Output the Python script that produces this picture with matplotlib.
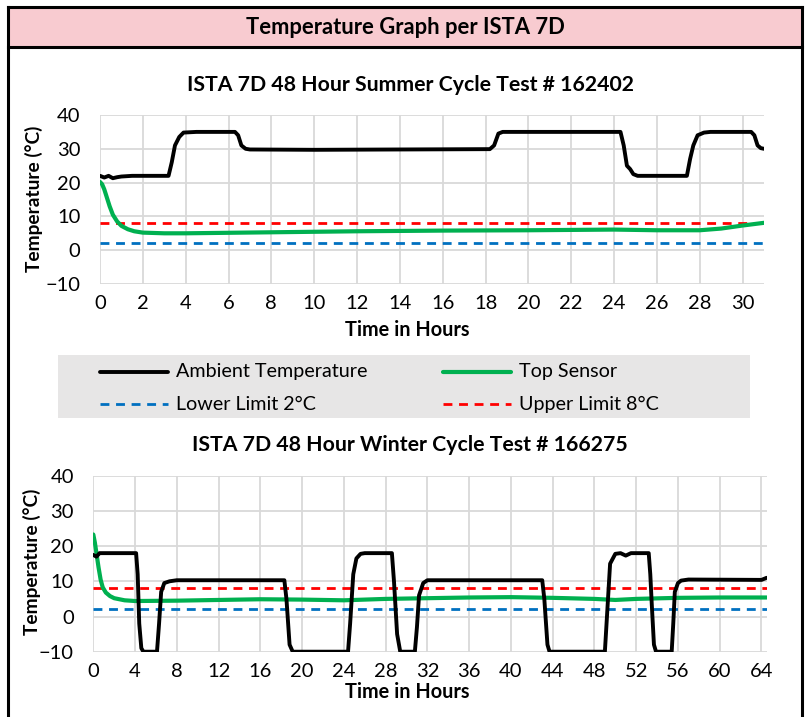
import matplotlib
matplotlib.use("Agg")
from matplotlib import pyplot as plt
from matplotlib.patches import Rectangle
from matplotlib.lines import Line2D

plt.rcParams['font.family'] = ['Lato', 'DejaVu Sans']

# summer cycle (test 162402)
summer_hours = [0, 0.2, 0.4, 0.6, 0.8, 1.0, 1.5, 2.0, 3.2, 3.35, 3.5, 3.7, 3.9, 4.5,
                6.3, 6.45, 6.6, 6.8, 7.0, 10, 14, 18.2, 18.4, 18.6, 18.8, 20, 24.3,
                24.45, 24.6, 24.75, 24.9, 25.1, 26, 27.4, 27.55, 27.7, 27.9, 28.2,
                28.5, 30.4, 30.55, 30.7, 30.85, 31.0]
summer_ambient = [22, 21.5, 22, 21.3, 21.6, 21.8, 22, 22, 22, 26, 31, 33.5, 34.8, 35,
                  35, 34, 31, 30, 29.8, 29.7, 29.8, 29.9, 31, 34.5, 35, 35, 35,
                  31, 25, 24, 22.5, 22, 22, 22, 27, 31, 34, 34.8,
                  35, 35, 34, 31, 30.2, 30]
summer_sensor_hours = [0, 0.1, 0.2, 0.3, 0.45, 0.6, 0.8, 1.0, 1.3, 1.6, 2.0, 3, 4, 8,
                       12, 16, 20, 24, 26, 28, 29, 30, 31]
summer_sensor = [20.2, 19.5, 18, 16, 13, 10.5, 8.5, 7.2, 6.2, 5.6, 5.2, 5.0, 5.0, 5.3,
                 5.6, 5.8, 5.9, 6.1, 5.9, 5.9, 6.4, 7.3, 8.1]

# winter cycle (test 166275)
winter_hours = [0, 0.3, 0.6, 1.0, 4.1, 4.25, 4.4, 4.6, 4.8, 6.1, 6.3, 6.5, 6.8, 7.3, 8,
                18.3, 18.5, 18.8, 19.1, 24.4, 24.6, 24.9, 25.2, 25.6, 26, 28.6, 28.8,
                29.1, 29.4, 30.8, 31.0, 31.2, 31.6, 32, 43.0, 43.2, 43.5, 43.7, 49.0,
                49.2, 49.5, 50.0, 50.5, 51, 51.5, 53.2, 53.35, 53.5, 53.7, 53.9, 55.4,
                55.55, 55.7, 56, 56.3, 57, 64, 64.5]
winter_ambient = [17.5, 17, 18, 18, 18, 12, -2, -9, -10, -10, -2, 7, 9.5, 10, 10.3,
                  10.3, 5, -8, -10, -10, -2, 12, 16.5, 17.8, 18, 18, 10,
                  -5, -10, -10, -3, 6, 9.5, 10.3, 10.3, 5, -8, -10, -10,
                  0, 15, 17.8, 18, 17.3, 18, 18, 12, 3, -8, -10, -10,
                  -2, 7, 9.5, 10.2, 10.5, 10.4, 11]
winter_sensor_hours = [0, 0.15, 0.3, 0.5, 0.7, 0.9, 1.2, 1.6, 2.0, 3.0, 4.0, 8, 12, 16,
                       20, 24, 28, 32, 36, 40, 44, 48, 50, 52, 56, 60, 64.5]
winter_sensor = [23.3, 21, 18, 14, 10.5, 8.3, 6.8, 5.8, 5.2, 4.6, 4.4, 4.5, 4.7, 4.9,
                 4.8, 4.6, 5.0, 5.2, 5.4, 5.5, 5.3, 5.0, 4.7, 5.0, 5.3, 5.4, 5.4]

lower_limit = 2
upper_limit = 8
y_ticks = [-10, 0, 10, 20, 30, 40]

W, H = 807, 717
BLACK, GREEN, BLUE, RED = '#000000', '#00b050', '#0070c0', '#ff0000'
GRID = '#d9d9d9'


def fx(px):
    return px / W


def fy(py):
    return 1 - py / H


fig = plt.figure(figsize=(W / 100, H / 100), dpi=100)

# frame and pink title band
fig.patches.append(Rectangle((fx(8), fy(47)), fx(802) - fx(8), fy(7) - fy(47),
                             transform=fig.transFigure, facecolor='#f8cbd0',
                             edgecolor='none', zorder=0))
for xs, ys in [([8, 8], [7, 717]), ([802, 802], [7, 717]), ([8, 802], [7, 7]),
               ([8, 802], [47, 47])]:
    fig.add_artist(Line2D([fx(x) for x in xs], [fy(y) for y in ys], color='black',
                          lw=2.2, transform=fig.transFigure))
fig.text(fx(405), fy(27), 'Temperature Graph per ISTA 7D', ha='center', va='center',
         fontsize=15.8, fontweight='bold')

# legend band
fig.patches.append(Rectangle((fx(58), fy(418)), fx(750) - fx(58), fy(355) - fy(418),
                             transform=fig.transFigure, facecolor='#e7e6e6',
                             edgecolor='none', zorder=0))


def draw_panel(rect, hours, ambient, s_hours, sensor, xmax, xstep, title, title_y,
               xlabel_y):
    ax = fig.add_axes(rect)
    ax.plot([0, xmax], [lower_limit, lower_limit], color=BLUE, lw=2.0,
            dashes=(3.2, 2.4))
    ax.plot([0, xmax], [upper_limit, upper_limit], color=RED, lw=2.0,
            dashes=(3.2, 2.4))
    ax.plot(s_hours, sensor, color=GREEN, lw=3.0, solid_joinstyle='round',
            solid_capstyle='round')
    ax.plot(hours, ambient, color=BLACK, lw=2.8, solid_joinstyle='round',
            solid_capstyle='round')
    ax.set_xlim(0, xmax)
    ax.set_ylim(-10, 40)
    ax.set_yticks(y_ticks)
    ax.set_xticks(range(0, int(xmax) + 1, xstep))
    ax.grid(True, color=GRID, lw=1.3)
    ax.set_axisbelow(True)
    for s in ax.spines.values():
        s.set_visible(False)
    ax.tick_params(length=0, labelsize=14.5)
    ax.tick_params(axis='y', pad=14)
    ax.tick_params(axis='x', pad=8)
    fig.text(fx(410), fy(title_y), title, ha='center', va='center', fontsize=15.3,
             fontweight='bold')
    fig.text(fx(407), fy(xlabel_y), 'Time in Hours', ha='center', va='center',
             fontsize=14.3, fontweight='bold')
    return ax


ax1 = draw_panel([fx(100), fy(284), fx(764) - fx(100), fy(115) - fy(284)],
                 summer_hours, summer_ambient, summer_sensor_hours, summer_sensor,
                 31, 2, 'ISTA 7D 48 Hour Summer Cycle Test # 162402', 85, 330)
ax2 = draw_panel([fx(93.3), fy(651.7), fx(766.7) - fx(93.3), fy(475.7) - fy(651.7)],
                 winter_hours, winter_ambient, winter_sensor_hours, winter_sensor,
                 64.5, 4, 'ISTA 7D 48 Hour Winter Cycle Test # 166275', 445, 692)
fig.text(fx(34), fy(199), 'Temperature (°C)', rotation=90, ha='center', va='center',
         fontsize=13.8, fontweight='bold')
fig.text(fx(32), fy(562), 'Temperature (°C)', rotation=90, ha='center', va='center',
         fontsize=13.8, fontweight='bold')

# legend entries drawn in the grey band
entries = [(100, 372, BLACK, None, 2.8, 'Ambient Temperature'),
           (443, 372, GREEN, None, 3.0, 'Top Sensor'),
           (100, 404, BLUE, (3.2, 2.4), 2.0, 'Lower Limit 2°C'),
           (443, 404, RED, (3.2, 2.4), 2.0, 'Upper Limit 8°C')]
for x0, y0, c, dash, lw, label in entries:
    ln = Line2D([fx(x0), fx(x0 + 68)], [fy(y0), fy(y0)], color=c, lw=lw,
                transform=fig.transFigure, solid_capstyle='round')
    if dash:
        ln.set_dashes(dash)
    fig.add_artist(ln)
    fig.text(fx(x0 + 76), fy(y0), label, ha='left', va='center', fontsize=14.2)

fig.savefig('out.png', dpi=100)
